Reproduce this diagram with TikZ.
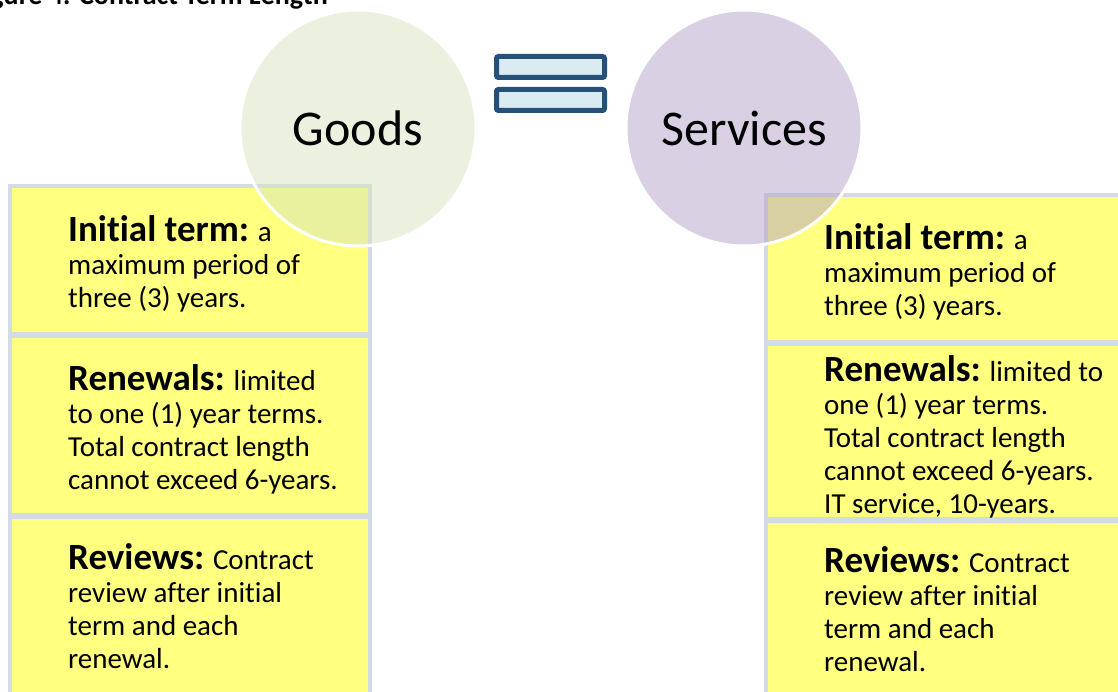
\documentclass[tikz,border=0pt]{standalone}
\usepackage{fontspec}
\setmainfont{Carlito}[Ligatures={NoCommon}]
\definecolor{cellyellow}{HTML}{FFFF80}
\definecolor{cellborder}{HTML}{D3DBE6}
\definecolor{eqborder}{HTML}{24507A}
\definecolor{eqfill}{HTML}{DAECF1}
\definecolor{goodsfill}{HTML}{D7E4BD}
\definecolor{servfill}{HTML}{B3A2C7}
\tikzset{
  cellbox/.style={rectangle, fill=cellyellow, draw=cellborder, line width=4pt, inner sep=0pt},
  bubble/.style={circle, minimum size=236pt, inner sep=0pt, fill opacity=0.5, text opacity=1,
    draw=white, draw opacity=1, line width=3pt, font=\fontsize{50}{60}\selectfont},
  eqbar/.style={draw=eqborder, fill=eqfill, line width=5pt, rounded corners=2pt,
    minimum width=108pt, minimum height=21pt, inner sep=0pt},
  celltext/.style={anchor=north west, inner sep=0pt, align=left,
    font=\fontsize{29}{33}\selectfont},
  titletext/.style={anchor=base east, inner sep=0pt, font=\fontsize{28}{34}\selectfont\bfseries}
}
\newcommand{\hd}[1]{\rule{0pt}{28pt}{\fontsize{37}{40}\selectfont\bfseries #1}}
\begin{document}
\begin{tikzpicture}[x=1pt, y=-1pt]
\useasboundingbox (0,0) rectangle (1118,692);
\clip (0,0) rectangle (1118,692);
% title (cut at top)
\node[titletext] (title) at (328,5) {Figure 4: Contract Term Length};
% left column cells
\node[cellbox, minimum width=360pt, minimum height=148pt] (lc1) at (190,260) {};
\node[cellbox, minimum width=360pt, minimum height=179pt] (lc2) at (190,425.5) {};
\node[cellbox, minimum width=360pt, minimum height=183pt] (lc3) at (190,608.5) {};
% right column cells
\node[cellbox, minimum width=359pt, minimum height=147pt] (rc1) at (945.5,268.5) {};
\node[cellbox, minimum width=359pt, minimum height=175pt] (rc2) at (945.5,431.5) {};
\node[cellbox, minimum width=359pt, minimum height=179pt] (rc3) at (945.5,610.5) {};
% left texts
\node[celltext] (lt1) at (68,213) {\hd{Initial term:} a\\maximum period of\\three (3) years.};
\node[celltext] (lt2) at (68,362) {\hd{Renewals:} limited\\to one (1) year terms.\\Total contract length\\cannot exceed 6-years.};
\node[celltext] (lt3) at (68,541) {\hd{Reviews:} Contract\\review after initial\\term and each\\renewal.};
% right texts
\node[celltext] (rt1) at (824,221) {\hd{Initial term:} a\\maximum period of\\three (3) years.};
\node[celltext] (rt2) at (824,353) {\hd{Renewals:} limited to\\one (1) year terms.\\Total contract length\\cannot exceed 6-years.\\IT service, 10-years.};
\node[celltext] (rt3) at (824,544) {\hd{Reviews:} Contract\\review after initial\\term and each\\renewal.};
% circles
\node[bubble, fill=goodsfill] (goods) at (358,128) {Goods};
\node[bubble, fill=servfill] (services) at (744,128) {Services};
% equals sign
\node[eqbar] (eqtop) at (550.5,67) {};
\node[eqbar] (eqbot) at (550.5,100) {};
\end{tikzpicture}
\end{document}
